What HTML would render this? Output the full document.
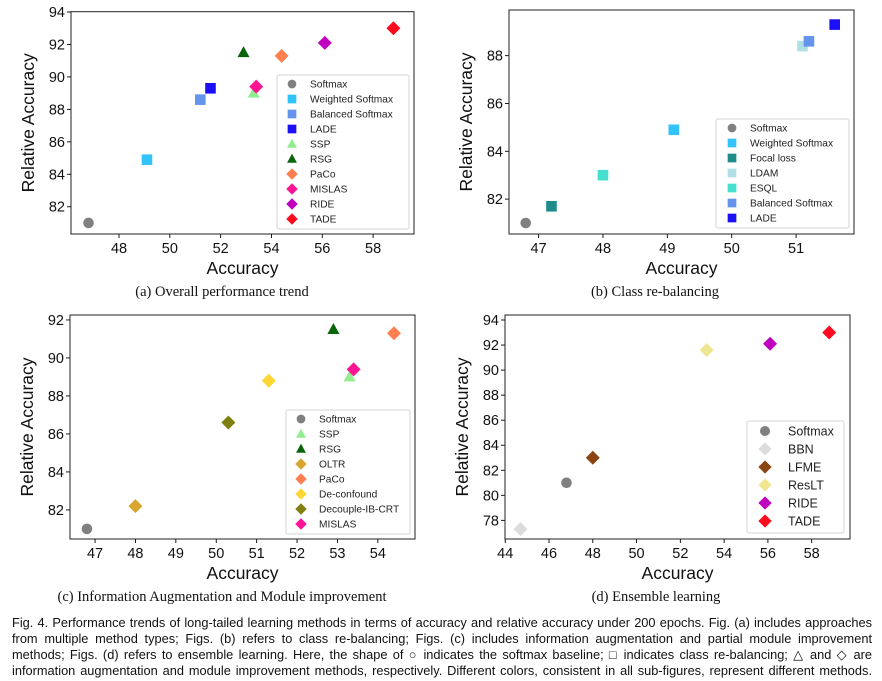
<!DOCTYPE html>
<html><head><meta charset="utf-8"><style>
html,body{margin:0;padding:0;background:#fff;}
#wrap{position:relative;width:882px;height:681px;overflow:hidden;}
svg{position:absolute;left:0;top:0;}
.cap{position:absolute;left:12px;width:860px;font-family:"Liberation Sans",sans-serif;font-size:12.8px;line-height:16px;color:#111;}
.ln{text-align:justify;text-align-last:justify;white-space:nowrap;height:16px;overflow:visible;}
</style></head><body>
<div id="wrap">
<svg id="svg" width="882" height="681" xmlns="http://www.w3.org/2000/svg"></svg>
<div class="cap" style="top:615px">
<div class="ln">Fig. 4. Performance trends of long-tailed learning methods in terms of accuracy and relative accuracy under 200 epochs. Fig. (a) includes approaches</div>
<div class="ln">from multiple method types; Figs. (b) refers to class re-balancing; Figs. (c) includes information augmentation and partial module improvement</div>
<div class="ln">methods; Figs. (d) refers to ensemble learning. Here, the shape of ○ indicates the softmax baseline; □ indicates class re-balancing; △ and ◇ are</div>
<div class="ln">information augmentation and module improvement methods, respectively. Different colors, consistent in all sub-figures, represent different methods.</div>
</div>
</div>
<script>
// Panel (a)
const aNames=["Softmax","Weighted Softmax","Balanced Softmax","LADE","SSP","RSG","PaCo","MISLAS","RIDE","TADE"];
const aX=[46.8,49.1,51.2,51.6,53.3,52.9,54.4,53.4,56.1,58.8];
const aY=[81.0,84.9,88.6,89.3,89.0,91.5,91.3,89.4,92.1,93.0];
const aXTicks=[48,50,52,54,56,58];
const aYTicks=[82,84,86,88,90,92,94];
// Panel (b)
const bNames=["Softmax","Weighted Softmax","Focal loss","LDAM","ESQL","Balanced Softmax","LADE"];
const bX=[46.8,49.1,47.2,51.1,48.0,51.2,51.6];
const bY=[81.0,84.9,81.7,88.4,83.0,88.6,89.3];
const bXTicks=[47,48,49,50,51];
const bYTicks=[82,84,86,88];
// Panel (c)
const cNames=["Softmax","SSP","RSG","OLTR","PaCo","De-confound","Decouple-IB-CRT","MISLAS"];
const cX=[46.8,53.3,52.9,48.0,54.4,51.3,50.3,53.4];
const cY=[81.0,89.0,91.5,82.2,91.3,88.8,86.6,89.4];
const cXTicks=[47,48,49,50,51,52,53,54];
const cYTicks=[82,84,86,88,90,92];
// Panel (d)
const dNames=["Softmax","BBN","LFME","ResLT","RIDE","TADE"];
const dX=[46.8,44.7,48.0,53.2,56.1,58.8];
const dY=[81.0,77.3,83.0,91.6,92.1,93.0];
const dXTicks=[44,46,48,50,52,54,56,58];
const dYTicks=[78,80,82,84,86,88,90,92,94];

const STY={
 "Softmax":["circle","#808080"],"Weighted Softmax":["square","#33c3fb"],"Balanced Softmax":["square","#6494ec"],
 "LADE":["square","#1a0ff5"],"SSP":["tri","#90ee90"],"RSG":["tri","#0a640a"],"PaCo":["diamond","#ff7f50"],
 "MISLAS":["diamond","#ff1493"],"RIDE":["diamond","#bf00bf"],"TADE":["diamond","#ff0a1e"],
 "Focal loss":["square","#1f8b8b"],"LDAM":["square","#b0dfe6"],"ESQL":["square","#46e0d0"],
 "OLTR":["diamond","#d9a530"],"De-confound":["diamond","#fdd835"],"Decouple-IB-CRT":["diamond","#808010"],
 "BBN":["diamond","#dcdcdc"],"LFME":["diamond","#8b4513"],"ResLT":["diamond","#efe691"]
};
const NS="http://www.w3.org/2000/svg";
const svg=document.getElementById('svg');
function mk(tag,attrs,parent){const e=document.createElementNS(NS,tag);for(const k in attrs)e.setAttribute(k,attrs[k]);(parent||svg).appendChild(e);return e;}
function marker(g,shape,color,cx,cy,s){
 let e;
 if(shape==="circle")e=mk('circle',{cx:cx,cy:cy,r:5.3*s,fill:color},g);
 else if(shape==="square")e=mk('rect',{x:cx-5.3*s,y:cy-5.3*s,width:10.6*s,height:10.6*s,fill:color},g);
 else if(shape==="tri")e=mk('polygon',{points:`${cx},${cy-6.5*s} ${cx-6*s},${cy+4.5*s} ${cx+6*s},${cy+4.5*s}`,fill:color},g);
 else e=mk('polygon',{points:`${cx},${cy-7*s} ${cx+7*s},${cy} ${cx},${cy+7*s} ${cx-7*s},${cy}`,fill:color},g);
 return e;
}
function panel(id,box,dom,names,xs,ys,xt,yt,leg,caption){
 const g=mk('g',{});
 
 
 const [L,T,R,B]=box,[x0,x1,y0,y1]=dom;
 const sx=v=>L+(v-x0)/(x1-x0)*(R-L);
 const sy=v=>B-(v-y0)/(y1-y0)*(B-T);
 const f='font-family:"Liberation Sans",sans-serif;';
 xt.forEach(v=>{const x=sx(v);mk('line',{x1:x,x2:x,y1:B,y2:B+4,stroke:'#000','stroke-width':0.9},g);
  const t=mk('text',{x:x,y:B+19,'text-anchor':'middle',style:f+'font-size:14.5px',fill:'#111'},g);t.textContent=v;
  });
 yt.forEach(v=>{const y=sy(v);mk('line',{x1:L-4,x2:L,y1:y,y2:y,stroke:'#000','stroke-width':0.9},g);
  const t=mk('text',{x:L-6,y:y+5,'text-anchor':'end',style:f+'font-size:14.5px',fill:'#111'},g);t.textContent=v;
  });
 names.forEach((n,i)=>{const st=STY[n];const m=marker(g,st[0],st[1],sx(xs[i]),sy(ys[i]),1);
  
  });
 const fr=mk('rect',{x:L,y:T,width:R-L,height:B-T,fill:'none',stroke:'#222','stroke-width':1},g);
 
 const xl=mk('text',{x:(L+R)/2,y:B+40,'text-anchor':'middle',style:f+'font-size:17.5px',fill:'#111'},g);xl.textContent='Accuracy';
 
 const yx=L-37,ycy=(T+B)/2;
 const yl=mk('text',{x:yx,y:ycy,'text-anchor':'middle',transform:`rotate(-90 ${yx} ${ycy})`,style:f+'font-size:17.5px',fill:'#111'},g);yl.textContent='Relative Accuracy';
 
 const [lx,ly,lw,lh,fy,sp,mx,tx,fs,ms]=leg;
 const lg=mk('g',{},g);
 
 mk('rect',{x:lx,y:ly,width:lw,height:lh,rx:2,fill:'#fff','fill-opacity':0.85,stroke:'#d6d6d6','stroke-width':1},lg);
 names.forEach((n,i)=>{const st=STY[n];const y=fy+i*sp;
  const e=mk('g',{},lg);
  marker(e,st[0],st[1],mx,y,ms);
  const t=mk('text',{x:tx,y:y+fs*0.36,style:f+`font-size:${fs}px`,fill:'#222'},e);t.textContent=n;});
 const c=mk('text',{x:caption[1],y:caption[2],'text-anchor':'middle',style:'font-family:"Liberation Serif",serif;font-size:14.5px',fill:'#111'},g);
 c.textContent=caption[0];
}
panel('a',[71,11.7,414,234],[46.11,59.61,80.32,94.02],aNames,aX,aY,aXTicks,aYTicks,
 [277,75,132,154,84,15,292,310,10.2,0.82],["(a) Overall performance trend",222,296]);
panel('b',[509,10,854,234],[46.54,51.90,80.54,89.91],bNames,bX,bY,bXTicks,bYTicks,
 [716,119,133,109,128,15,732,750,10.2,0.82],["(b) Class re-balancing",655,296]);
panel('c',[70,315,415,539],[46.38,54.92,80.47,92.26],cNames,cX,cY,cXTicks,cYTicks,
 [286,410,124,124,419,15,301,319,10.2,0.82],["(c) Information Augmentation and Module improvement",222,601]);
panel('d',[505,315,850,539],[43.99,59.75,76.51,94.4],dNames,dX,dY,dXTicks,dYTicks,
 [747,421,97,112,431,18,765,788,12.5,0.95],["(d) Ensemble learning",656,601]);
</script>
</body></html>
